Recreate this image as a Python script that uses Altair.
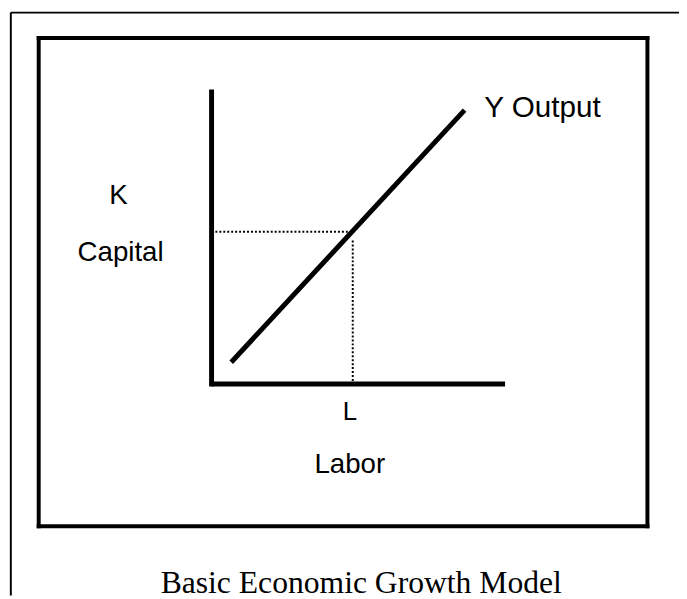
import altair as alt
import pandas as pd

# --- data (labor / capital units; axes run 0..10) ---
line_labor = [0.67, 8.62]
line_capital = [0.74, 9.30]
point_labor = 4.81
point_capital = 5.17
axis_max = 10.0

label_texts = ["K", "Capital", "Labor"]
label_x = [-3.17, -3.10, 4.71]
label_y = [6.38, 4.46, -2.75]

tick_label = "L"
curve_label = "Y Output"
title_text = "Basic Economic Growth Model"

# frames (in the same units)
inner_box = dict(x=-5.89, x2=14.85, y=-4.83, y2=11.75)
outer_box = dict(x=-6.84, x2=20.0, y=-12.0, y2=12.62)

W, H = 679, 591
px_x, px_y = 29.7, 29.8
xmin = -206 / px_x
xmax = xmin + W / px_x
ymax = 377 / px_y
ymin = ymax - H / px_y

xs = alt.Scale(domain=[xmin, xmax], nice=False, zero=False)
ys = alt.Scale(domain=[ymin, ymax], nice=False, zero=False)

def X(f):
    return alt.X(f, type="quantitative", scale=xs, axis=None)

def Y(f):
    return alt.Y(f, type="quantitative", scale=ys, axis=None)

def box_rules(b):
    return pd.DataFrame({
        "x": [b["x"], b["x"], b["x"], b["x2"]],
        "x2": [b["x2"], b["x2"], b["x"], b["x2"]],
        "y": [b["y"], b["y2"], b["y"], b["y"]],
        "y2": [b["y"], b["y2"], b["y2"], b["y2"]],
    })

outer_df = box_rules(outer_box)
inner_df = box_rules(inner_box)

outer = alt.Chart(outer_df).mark_rule(color="black", strokeWidth=2, clip=True).encode(
    x=X("x"), x2="x2", y=Y("y"), y2="y2")
inner = alt.Chart(inner_df).mark_rule(color="black", strokeWidth=4, strokeCap="square").encode(
    x=X("x"), x2="x2", y=Y("y"), y2="y2")

axes_df = pd.DataFrame({
    "x": [0.0, 0.0], "x2": [0.0, axis_max],
    "y": [-0.08, 0.0], "y2": [axis_max, 0.0],
})
axes = alt.Chart(axes_df).mark_rule(color="black", strokeWidth=5).encode(
    x=X("x"), x2="x2", y=Y("y"), y2="y2")

dot_df = pd.DataFrame({
    "x": [0.13, point_labor], "x2": [point_labor, point_labor],
    "y": [point_capital, point_capital - 0.3], "y2": [point_capital, 0.0],
})
dots = alt.Chart(dot_df).mark_rule(color="black", strokeWidth=2, strokeDash=[2, 2]).encode(
    x=X("x"), x2="x2", y=Y("y"), y2="y2")

line_df = pd.DataFrame({"L": line_labor, "K": line_capital})
line = alt.Chart(line_df).mark_line(color="black", strokeWidth=5).encode(
    x=X("L"), y=Y("K"))

lab_df = pd.DataFrame({"t": label_texts, "x": label_x, "y": label_y})
labels = alt.Chart(lab_df).mark_text(
    font="Liberation Sans", fontSize=28, color="black", align="center", baseline="middle"
).encode(x=X("x"), y=Y("y"), text="t:N")

tick_df = pd.DataFrame({"t": [tick_label], "x": [point_labor - 0.1], "y": [-0.94]})
tick_text = alt.Chart(tick_df).mark_text(
    font="Liberation Sans", fontSize=26, color="black", align="center", baseline="middle"
).encode(x=X("x"), y=Y("y"), text="t:N")

curve_df = pd.DataFrame({"t": [curve_label], "x": [9.29], "y": [9.36]})
curve_text = alt.Chart(curve_df).mark_text(
    font="Liberation Sans", fontSize=30, color="black", align="left", baseline="middle"
).encode(x=X("x"), y=Y("y"), text="t:N")

title_df = pd.DataFrame({"t": [title_text], "x": [5.10], "y": [-7.11]})
title = alt.Chart(title_df).mark_text(
    font="Liberation Serif", fontSize=32, color="black", align="center", baseline="alphabetic"
).encode(x=X("x"), y=Y("y"), text="t:N")

chart = alt.layer(outer, inner, axes, dots, line, labels, tick_text, curve_text, title).properties(
    width=W, height=H, padding=0, autosize=alt.AutoSizeParams(type="none"),
    background="white"
).configure_view(stroke=None)

chart.save("out.html", embed_options={"renderer": "svg", "actions": False})
